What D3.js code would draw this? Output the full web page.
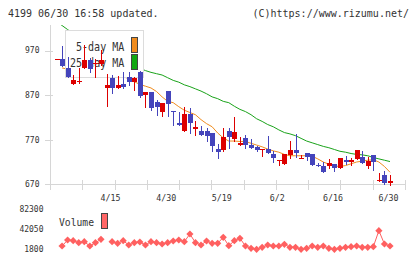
<!DOCTYPE html>
<html><head><meta charset="utf-8">
<script src="https://cdn.jsdelivr.net/npm/d3@7/dist/d3.min.js"></script>
<style>body{margin:0;background:#fff;} svg{display:block;}</style>
</head><body><svg id="c" width="420" height="259"></svg>
<script>
const dates = ["4/1","4/2","4/3","4/4","4/7","4/8","4/9","4/10","4/11","4/14",
 "4/15","4/16","4/17","4/18","4/21","4/22","4/23","4/24","4/25","4/28",
 "4/30","5/2","5/7","5/8","5/9","5/12","5/13","5/14","5/15","5/16",
 "5/19","5/20","5/21","5/22","5/23","5/26","5/27","5/28","5/29","5/30",
 "6/2","6/3","6/4","6/5","6/6","6/9","6/10","6/11","6/12","6/13",
 "6/16","6/17","6/18","6/19","6/20","6/23","6/24","6/25","6/26","6/27","6/30"];
const open  = [950,952,931,896,900,931,949,940,940,887,909,887,895,911,899,922,871,877,855,831,880,835,808,790,828,793,789,789,785,749,747,790,771,757,773,758,753,746,749,738,722,716,736,747,728,740,738,714,711,712,716,707,724,720,727,731,710,736,678,691,674];
const high  = [951,981,955,916,931,983,953,951,972,918,915,913,921,922,911,924,877,878,859,852,880,835,833,844,842,812,800,796,785,760,796,796,821,777,781,771,756,749,779,745,725,738,767,783,736,740,738,717,721,727,716,728,734,728,747,745,732,736,696,700,691];
const low   = [950,936,910,896,897,931,921,911,938,846,875,885,885,893,882,866,843,837,826,823,823,803,802,790,786,781,781,766,745,730,745,751,766,757,752,751,745,734,740,721,713,716,730,732,728,725,713,710,698,706,700,707,715,713,727,717,706,702,678,671,668];
const close = [951,936,910,904,901,949,928,943,949,893,887,893,889,900,909,868,877,841,843,852,849,831,802,828,808,799,781,778,756,742,776,776,787,763,757,752,746,749,740,728,725,738,747,740,730,732,713,710,698,717,707,728,719,724,747,717,722,719,680,674,677];
const ma5  = [null,931,928,922,920,920,918,925,934,932,922,915,911,907,900,894,890,886,878,866,856,853,844,836,831,826,815,806,799,785,774,767,767,766,766,762,758,754,749,745,742,737,734,734,734,734,733,727,720,715,711,710,712,716,720,722,724,725,720,710,697];
const ma25 = [1036,1026,1017,1008,1000,992,985,978,971,964,958,952,946,940,935,930,925,921,918,915,909,903,899,893,889,884,879,873,866,862,856,853,845,838,833,826,817,811,804,799,792,786,783,779,773,767,763,759,755,752,748,744,742,739,737,736,734,730,727,724,721];
const volume = [null,8300,20200,18900,14900,16900,8300,14900,21600,null,16900,13700,18900,10300,14900,16300,10300,16900,14900,12300,14900,18300,20200,16900,32100,14900,10300,18300,13700,13700,25600,8900,18900,23600,8300,3800,1800,5800,10300,8300,8300,11700,5800,5800,1800,3800,8300,5800,8300,3800,1800,3800,5800,7000,8300,5800,5800,7000,38700,12300,8300];
const priceTicks = [670,770,870,970];
const volTicks = [82300,42050,1800];
const dateLabels = ["4/15","4/30","5/19","6/2","6/16","6/30"];
const title = "4199 06/30 16:58 updated.";
const credit = "(C)https://www.rizumu.net/";

const svg = d3.select('#c');
const mono = "'DejaVu Sans Mono', monospace";
const x = d3.scalePoint().domain(dates).range([56.5, 390]);
const y = d3.scaleLinear().domain([670, 970]).range([184.3, 50.5]);
const yv = d3.scaleLinear().domain([1800, 82300]).range([249.3, 208.7]);
const grid = d3.scaleLinear().domain([0, 11]).range([50, 405]);
const axisColor = "#d6d6d6", textColor = "#333";
const RED = "#dd0000", BLUE = "#4444bb";

// title texts
svg.append("text").attr("x", 8).attr("y", 16.5).attr("font-family", mono).attr("font-size", 10)
  .attr("fill", textColor).text(title);
svg.append("text").attr("x", 409).attr("y", 16.5).attr("text-anchor", "end").attr("font-family", mono).attr("font-size", 10)
  .attr("fill", textColor).text(credit);

// axes
const ax = svg.append("g").attr("shape-rendering", "crispEdges").attr("stroke", axisColor);
ax.append("line").attr("x1", 50.5).attr("x2", 50.5).attr("y1", 25).attr("y2", 189.5);
ax.append("line").attr("x1", 50).attr("x2", 406).attr("y1", Math.round(y(670)) + 0.5).attr("y2", Math.round(y(670)) + 0.5);
d3.range(12).forEach(k => {
  const gx = Math.round(grid(k)) + 0.5;
  ax.append("line").attr("x1", gx).attr("x2", gx).attr("y1", 180).attr("y2", 189.5);
});
priceTicks.forEach(t => {
  const ty = Math.round(y(t)) + 0.5;
  ax.append("line").attr("x1", 45).attr("x2", 53).attr("y1", ty).attr("y2", ty);
  svg.append("text").attr("x", 39.5).attr("y", y(t)).attr("dy", "0.35em").attr("text-anchor", "end")
    .attr("font-family", mono).attr("font-size", 8).attr("fill", textColor).text(t);
});
dateLabels.forEach(d => {
  svg.append("text").attr("x", x(d) - 1.5).attr("y", 200.7).attr("text-anchor", "middle")
    .attr("font-family", mono).attr("font-size", 8.3).attr("fill", textColor).text(d);
});
volTicks.forEach(t => {
  svg.append("text").attr("x", 43.5).attr("y", yv(t)).attr("dy", "0.35em").attr("text-anchor", "end")
    .attr("font-family", mono).attr("font-size", 8).attr("fill", textColor).text(t);
});

// clip for price area
svg.append("clipPath").attr("id", "pc").append("rect").attr("x", 50).attr("y", 25).attr("width", 360).attr("height", 165);

// MA lines
const lineFn = arr => d3.line().defined(d => d != null).x((d, i) => x(dates[i])).y(d => y(d))(arr);
const maG = svg.append("g").attr("clip-path", "url(#pc)");
maG.append("path").attr("d", lineFn(ma25)).attr("fill", "none").attr("stroke", "#1aa31a").attr("stroke-width", 1);
maG.append("path").attr("d", lineFn(ma5)).attr("fill", "none").attr("stroke", "#f08c1e").attr("stroke-width", 1);

// legend
const lg = svg.append("g");
lg.append("rect").attr("x", 65.5).attr("y", 30.5).attr("width", 78).attr("height", 47)
  .attr("fill", "#fff").attr("stroke", "#dcdcdc").attr("shape-rendering", "crispEdges");
lg.append("text").attr("x", 76).attr("y", 50.7).attr("font-family", mono).attr("font-size", 12)
  .attr("textLength", 48.3).attr("lengthAdjust", "spacingAndGlyphs").attr("fill", textColor).text("5-day MA");
lg.append("text").attr("x", 70).attr("y", 66.7).attr("font-family", mono).attr("font-size", 12)
  .attr("textLength", 54.3).attr("lengthAdjust", "spacingAndGlyphs").attr("fill", textColor).text("25-day MA");
lg.append("rect").attr("x", 131.5).attr("y", 37.5).attr("width", 6).attr("height", 14.5)
  .attr("fill", "#f08c1e").attr("stroke", "#444").attr("shape-rendering", "crispEdges");
lg.append("rect").attr("x", 131.5).attr("y", 54.5).attr("width", 6).attr("height", 14.5)
  .attr("fill", "#12a812").attr("stroke", "#444").attr("shape-rendering", "crispEdges");

// candles
const cg = svg.append("g").attr("shape-rendering", "crispEdges");
dates.forEach((d, i) => {
  const cx = Math.round(x(d));
  const col = close[i] >= open[i] ? RED : BLUE;
  cg.append("line").attr("x1", cx + 0.5).attr("x2", cx + 0.5)
    .attr("y1", Math.round(y(high[i]))).attr("y2", Math.round(y(low[i])) + 1).attr("stroke", col);
  const top = Math.round(y(Math.max(open[i], close[i])));
  const bot = Math.round(y(Math.min(open[i], close[i])));
  cg.append("rect").attr("x", cx - 2).attr("y", top).attr("width", 5).attr("height", Math.max(1, bot - top))
    .attr("fill", col);
});

// volume
const VCOL = "#ff6060";
const vline = d3.line().defined(d => d != null).x((d, i) => x(dates[i])).y(d => yv(d));
svg.append("path").attr("d", vline(volume)).attr("fill", "none").attr("stroke", VCOL).attr("stroke-width", 1);
volume.forEach((v, i) => {
  if (v == null) return;
  const px = x(dates[i]), py = yv(v), r = 3.6;
  svg.append("path").attr("d", `M${px},${py - r}L${px + r},${py}L${px},${py + r}L${px - r},${py}Z`).attr("fill", VCOL);
});
svg.append("text").attr("x", 59).attr("y", 226).attr("font-family", mono).attr("font-size", 11)
  .attr("textLength", 35).attr("lengthAdjust", "spacingAndGlyphs").attr("fill", textColor).text("Volume");
svg.append("rect").attr("x", 101.5).attr("y", 213.5).attr("width", 6).attr("height", 14.5)
  .attr("fill", "#ff6666").attr("stroke", "#444").attr("shape-rendering", "crispEdges");
</script></body></html>
